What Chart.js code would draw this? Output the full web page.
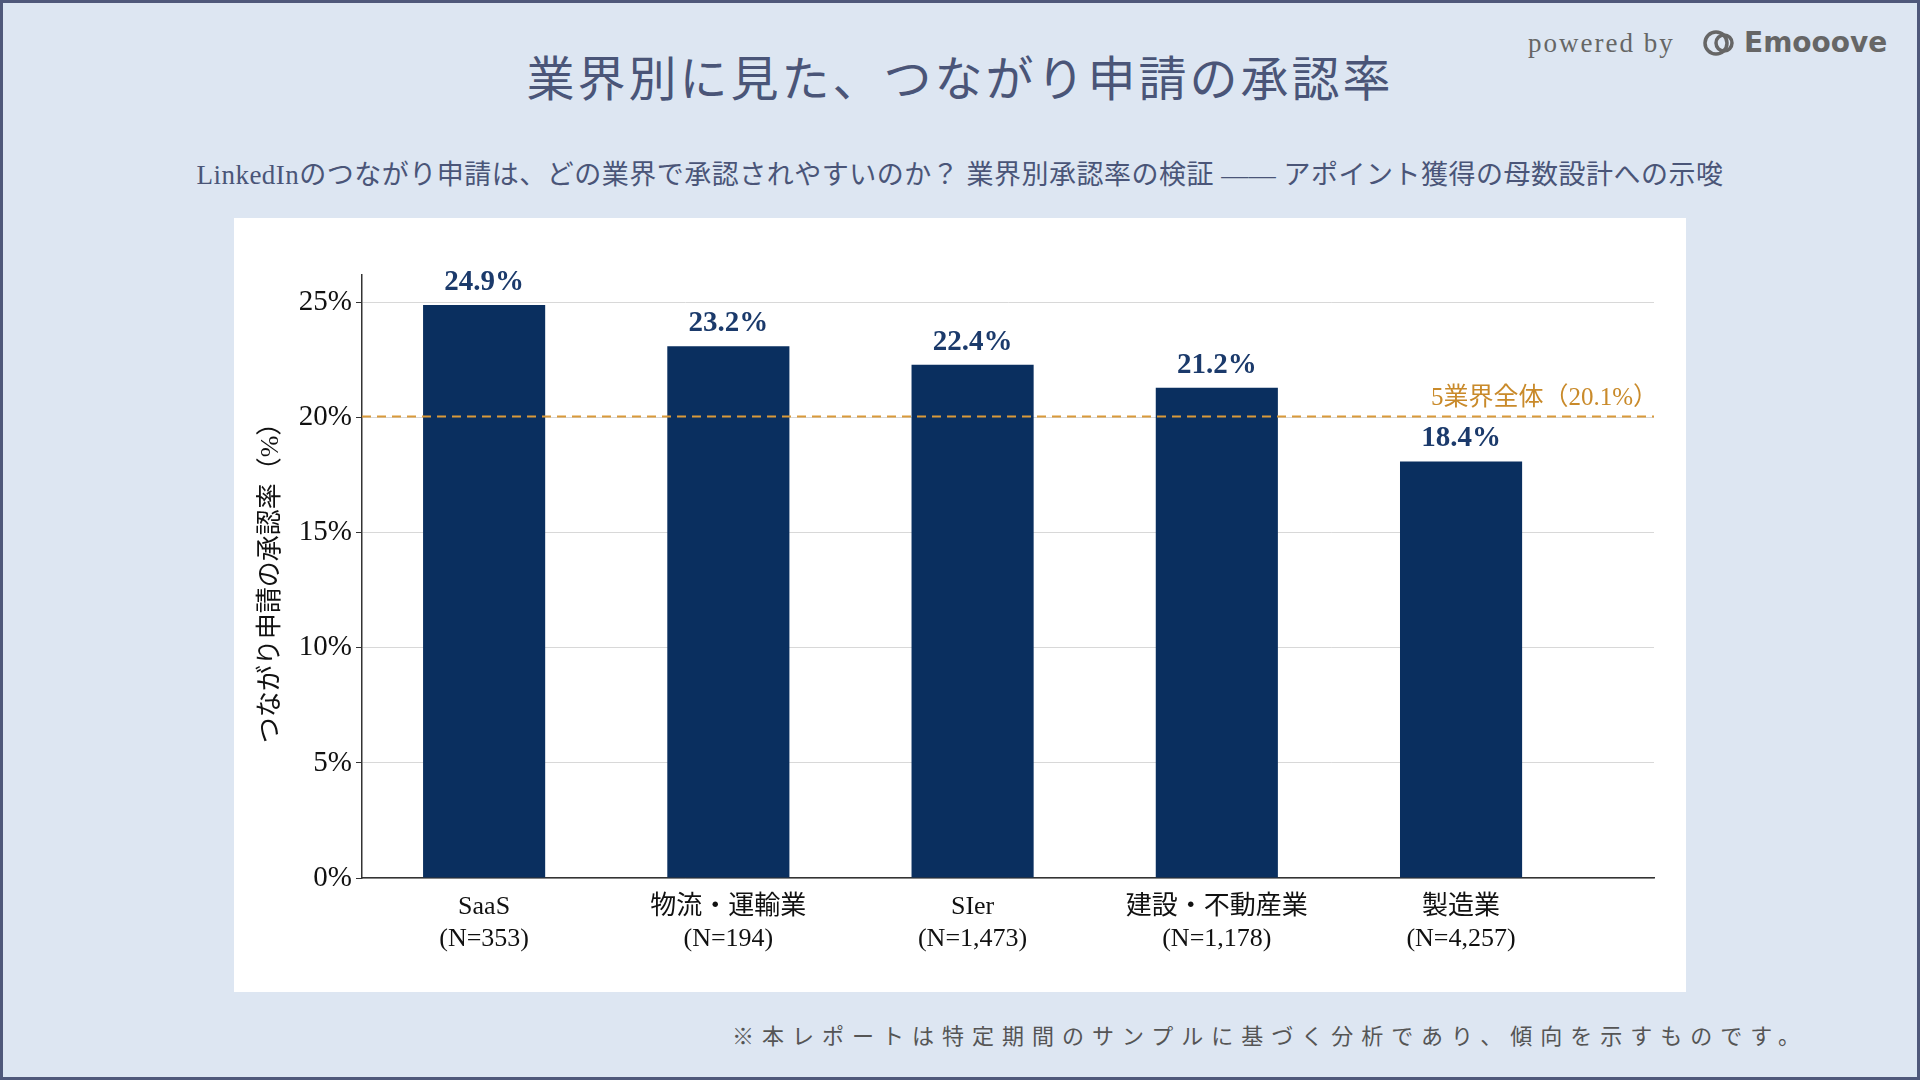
<!DOCTYPE html>
<html><head><meta charset="utf-8">
<script src="https://cdn.jsdelivr.net/npm/chart.js@4"></script>
<style>
body{margin:0;width:1920px;height:1080px;overflow:hidden;background:#dde6f2;font-family:"Liberation Serif","Noto Sans CJK JP",serif}
#frame{position:absolute;left:0;top:0;width:1914px;height:1074px;border:3px solid #4f587a}
#title{position:absolute;top:40px;left:0;width:1920px;text-align:center;font-size:48px;color:#4a5578;font-family:"Liberation Serif","Noto Sans CJK JP";letter-spacing:3px}
#sub{position:absolute;top:153px;left:0;width:1920px;text-align:center;font-size:27px;color:#4a5578;letter-spacing:0.5px}
#pow{position:absolute;top:28px;left:1528px;font-size:27px;color:#666;letter-spacing:2px}
#logo{position:absolute;top:26px;left:1702px;font:bold 28px "DejaVu Sans";color:#666;display:flex;align-items:center;gap:6px}
#panel{position:absolute;left:234px;top:218px;width:1452px;height:774px;background:#fff}
#note{position:absolute;top:1018px;right:112px;font-size:22px;color:#555;letter-spacing:8px;font-family:"Noto Sans CJK JP"}
</style></head><body>
<div id="frame"></div>
<div id="title">業界別に見た、つながり申請の承認率</div>
<div id="sub">LinkedInのつながり申請は、どの業界で承認されやすいのか？ 業界別承認率の検証 ―― アポイント獲得の母数設計への示唆</div>
<div id="pow">powered by</div>
<div id="logo"><svg width="36" height="32" viewBox="0 0 36 32"><circle cx="14" cy="16" r="11" fill="none" stroke="#666" stroke-width="3.5"/><circle cx="22" cy="16" r="8" fill="none" stroke="#666" stroke-width="3.5"/></svg>Emooove</div>
<div id="panel"><canvas id="c" width="1452" height="774"></canvas></div>
<div id="note">※本レポートは特定期間のサンプルに基づく分析であり、傾向を示すものです。</div>
<script>
const categories = [["SaaS","(N=353)"],["物流・運輸業","(N=194)"],["SIer","(N=1,473)"],["建設・不動産業","(N=1,178)"],["製造業","(N=4,257)"]];
const rates = [24.9, 23.1, 22.3, 21.3, 18.1];
const rateLabels = ["24.9%","23.2%","22.4%","21.2%","18.4%"];
const overall = 20.05;
const overallLabel = "5業界全体（20.1%）";
const yTicks = [0,5,10,15,20,25];

const serif = '"Liberation Serif","Noto Sans CJK JP"';
const overlay = {
  id:'overlay',
  afterDatasetsDraw(chart){
    const {ctx, scales:{x,y}, chartArea} = chart;
    ctx.save();
    ctx.strokeStyle='#d99a3a'; ctx.lineWidth=2; ctx.setLineDash([9,6]);
    const yy=y.getPixelForValue(overall);
    ctx.beginPath(); ctx.moveTo(chartArea.left,yy); ctx.lineTo(chartArea.right,yy); ctx.stroke();
    ctx.setLineDash([]);
    ctx.fillStyle='#c98a2a'; ctx.font='25px '+serif; ctx.textAlign='right'; ctx.textBaseline='bottom';
    ctx.fillText(overallLabel, chartArea.right+4, yy-6);
    ctx.fillStyle='#1b3a6b'; ctx.font='bold 29px '+serif; ctx.textAlign='center';
    rates.forEach((v,i)=>ctx.fillText(rateLabels[i], x.getPixelForValue(i), y.getPixelForValue(v)-8));
    ctx.restore();
  }
};
new Chart(document.getElementById('c'),{
  type:'bar',
  data:{datasets:[{data:rates.map((v,i)=>({x:i,y:v})),backgroundColor:'#0a2f5f',barPercentage:0.5,categoryPercentage:1}]},
  options:{
    responsive:false,animation:false,
    layout:{padding:{left:18,top:57,right:32,bottom:0}},
    plugins:{legend:{display:false},tooltip:{enabled:false}},
    scales:{
      x:{type:'linear',min:-0.5,max:4.79,offset:false,
        afterBuildTicks(s){s.ticks=categories.map((c,i)=>({value:i}));},
        afterFit(s){s.height=114;},
        grid:{display:false,drawTicks:true,tickLength:6,tickColor:'#333'},
        border:{color:'#333',width:1.5},
        ticks:{color:'#111',font:{family:serif,size:26},padding:8,callback:(v)=>categories[v]}},
      y:{min:0,max:26.2,
        afterBuildTicks(s){s.ticks=yTicks.map(v=>({value:v}));},
        afterFit(s){s.width=110;},
        grid:{color:'#d8d8d8',tickColor:'#333',tickLength:6,drawOnChartArea:true},
        border:{color:'#333',width:1.5,dash:[]},
        ticks:{color:'#111',font:{family:serif,size:29},padding:4,callback:v=>v+'%'},
        title:{display:true,text:'つながり申請の承認率（%）',color:'#111',font:{family:serif,size:26},padding:{bottom:2}}}
    }
  },
  plugins:[overlay]
});
</script>
</body></html>
